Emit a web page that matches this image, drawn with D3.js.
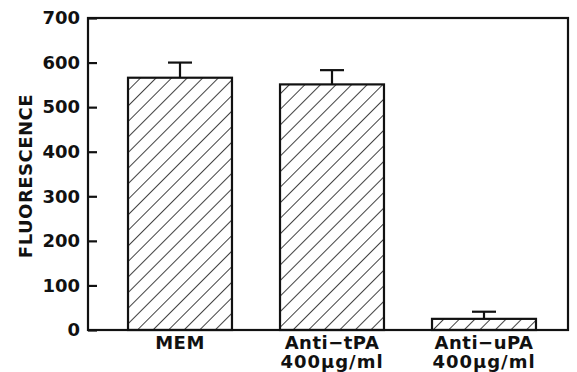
<!DOCTYPE html>
<html>
<head>
<meta charset="utf-8">
<script src="https://cdn.jsdelivr.net/npm/d3@7"></script>
<style>
body { margin: 0; background: #fff; }
text { font-family: "DejaVu Sans", sans-serif; font-weight: bold; fill: #111; }
</style>
</head>
<body>
<div id="chart"></div>
<script>
var categories = ["MEM", "Anti\u2212tPA", "Anti\u2212uPA"];
var subLabels = ["", "400\u03bcg/ml", "400\u03bcg/ml"];
var values = [566, 551, 25];
var errors = [34, 32, 16];
var yTicks = [0, 100, 200, 300, 400, 500, 600, 700];

var width = 577, height = 372;
var margin = {top: 18, right: 9, bottom: 42, left: 88};

var svg = d3.select("#chart").append("svg")
    .attr("width", width)
    .attr("height", height);

// hatch pattern for the bars
var defs = svg.append("defs");
defs.append("pattern")
    .attr("id", "hatch")
    .attr("patternUnits", "userSpaceOnUse")
    .attr("width", 11)
    .attr("height", 11)
    .attr("patternTransform", "rotate(45)")
    .append("line")
    .attr("x1", 0).attr("y1", 0)
    .attr("x2", 0).attr("y2", 11)
    .attr("stroke", "#111")
    .attr("stroke-width", 1.6);

var x = d3.scaleBand()
    .domain(d3.range(categories.length))
    .range([104, 560])
    .paddingInner(0.316)
    .paddingOuter(0.158);

var y = d3.scaleLinear()
    .domain([0, 700])
    .range([height - margin.bottom, margin.top]);

var x0 = margin.left, x1 = width - margin.right;

// bars
svg.selectAll("rect.bar")
    .data(values)
    .enter()
    .append("rect")
    .attr("class", "bar")
    .attr("x", function(d, i) { return x(i); })
    .attr("y", function(d) { return y(d); })
    .attr("width", x.bandwidth())
    .attr("height", function(d) { return y(0) - y(d); })
    .attr("fill", "url(#hatch)")
    .attr("stroke", "#111")
    .attr("stroke-width", 2.2);

// error bars
var err = svg.selectAll("g.err")
    .data(values)
    .enter()
    .append("g")
    .attr("class", "err");
err.append("line")
    .attr("x1", function(d, i) { return x(i) + x.bandwidth() / 2; })
    .attr("x2", function(d, i) { return x(i) + x.bandwidth() / 2; })
    .attr("y1", function(d) { return y(d); })
    .attr("y2", function(d, i) { return y(d + errors[i]); })
    .attr("stroke", "#111")
    .attr("stroke-width", 2.2);
err.append("line")
    .attr("x1", function(d, i) { return x(i) + x.bandwidth() / 2 - 12; })
    .attr("x2", function(d, i) { return x(i) + x.bandwidth() / 2 + 12; })
    .attr("y1", function(d, i) { return y(d + errors[i]); })
    .attr("y2", function(d, i) { return y(d + errors[i]); })
    .attr("stroke", "#111")
    .attr("stroke-width", 2.2);

// frame
svg.append("rect")
    .attr("x", x0)
    .attr("y", y(700))
    .attr("width", x1 - x0)
    .attr("height", y(0) - y(700))
    .attr("fill", "none")
    .attr("stroke", "#111")
    .attr("stroke-width", 2.2);

// y axis, ticks pointing inward
var yAxis = d3.axisRight(y)
    .tickValues(yTicks)
    .tickSize(9);
var yg = svg.append("g")
    .attr("transform", "translate(" + x0 + ",0)")
    .call(yAxis);
yg.select(".domain").remove();
yg.selectAll(".tick line").attr("stroke", "#111").attr("stroke-width", 2.2);
yg.selectAll(".tick text")
    .attr("x", -8)
    .attr("text-anchor", "end")
    .style("font-size", "18px")
    .style("font-family", "DejaVu Sans")
    .style("font-weight", "bold")
    .attr("fill", "#111");

svg.append("text")
    .attr("transform", "rotate(-90)")
    .attr("x", -176)
    .attr("y", 32)
    .attr("text-anchor", "middle")
    .style("font-size", "18px")
    .style("letter-spacing", "0.5px")
    .text("FLUORESCENCE");

// category labels
svg.selectAll("text.cat")
    .data(categories)
    .enter()
    .append("text")
    .attr("class", "cat")
    .attr("x", function(d, i) { return x(i) + x.bandwidth() / 2; })
    .attr("y", 349)
    .attr("text-anchor", "middle")
    .style("font-size", "18px")
    .style("letter-spacing", "0.5px")
    .text(function(d) { return d; });

svg.selectAll("text.sub")
    .data(subLabels)
    .enter()
    .append("text")
    .attr("class", "sub")
    .attr("x", function(d, i) { return x(i) + x.bandwidth() / 2; })
    .attr("y", 368)
    .attr("text-anchor", "middle")
    .style("font-size", "18px")
    .style("letter-spacing", "1px")
    .text(function(d) { return d; });
</script>
</body>
</html>
